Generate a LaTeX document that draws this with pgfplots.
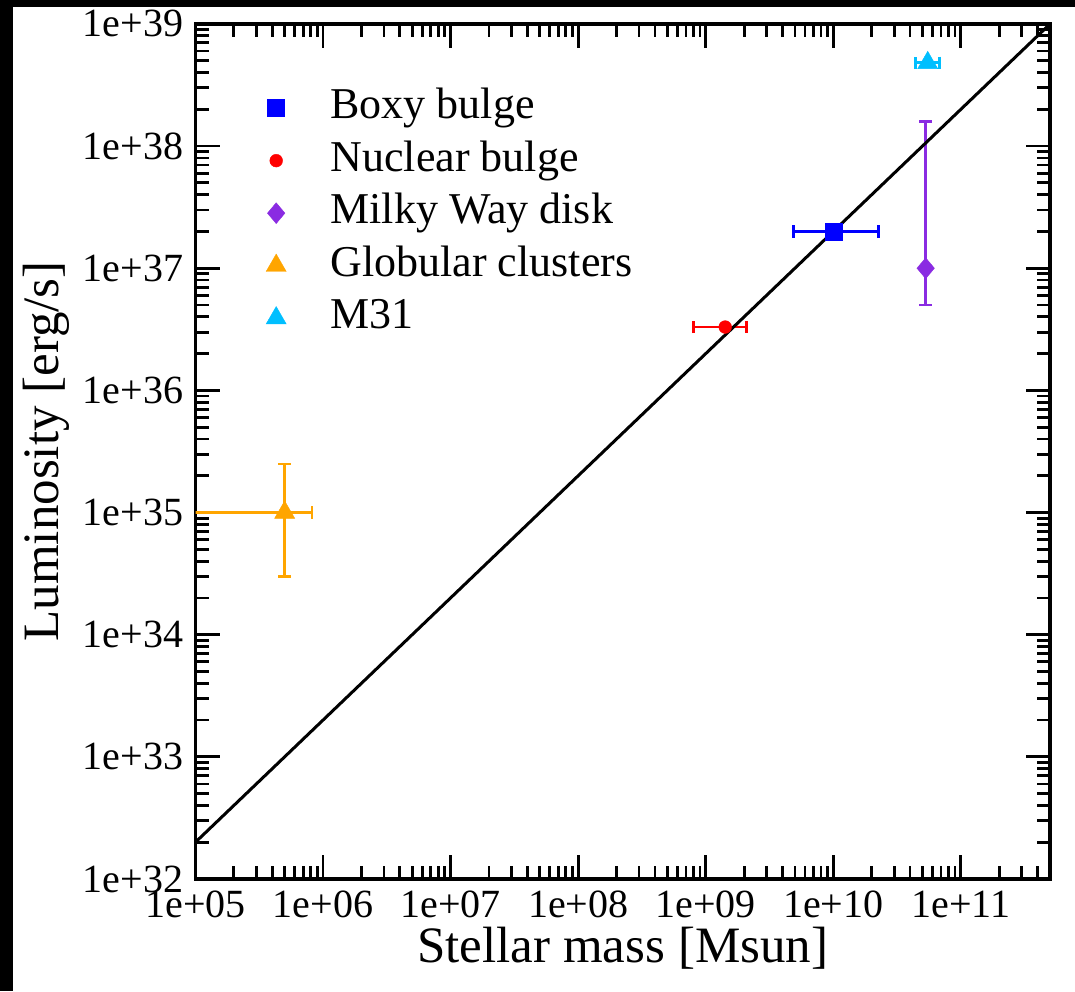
\documentclass[border=0pt]{standalone}
\usepackage{fontspec}
\setmainfont{Liberation Serif}
\usepackage{pgfplots}
\pgfplotsset{compat=1.18}

\definecolor{boxyc}{RGB}{0,0,255}
\definecolor{nuclc}{RGB}{255,0,0}
\definecolor{diskc}{RGB}{138,43,226}
\definecolor{gcc}{RGB}{255,165,0}
\definecolor{mtc}{RGB}{0,191,255}

\begin{document}
\begin{tikzpicture}
\path[use as bounding box] (-97.75pt,-56pt) rectangle (439.75pt,439.5pt);
\fill[white] (-97.75pt,-56pt) rectangle (439.75pt,439.5pt);
\fill[black] (-97.75pt,-56pt) rectangle (-91.4pt,439.5pt);
\fill[black] (-97.75pt,436.1pt) rectangle (439.75pt,439.5pt);
\begin{axis}[
  scale only axis, width=427.25pt, height=427.5pt,
  xmode=log, ymode=log,
  xmin=1e5, xmax=5e11, ymin=1e32, ymax=1e39,
  xtick={1e5,1e6,1e7,1e8,1e9,1e10,1e11},
  xticklabels={1e+05,1e+06,1e+07,1e+08,1e+09,1e+10,1e+11},
  ytick={1e32,1e33,1e34,1e35,1e36,1e37,1e38,1e39},
  yticklabels={1e+32,1e+33,1e+34,1e+35,1e+36,1e+37,1e+38,1e+39},
  minor xtick={2e5,3e5,4e5,5e5,6e5,7e5,8e5,9e5,
               2e6,3e6,4e6,5e6,6e6,7e6,8e6,9e6,
               2e7,3e7,4e7,5e7,6e7,7e7,8e7,9e7,
               2e8,3e8,4e8,5e8,6e8,7e8,8e8,9e8,
               2e9,3e9,4e9,5e9,6e9,7e9,8e9,9e9,
               2e10,3e10,4e10,5e10,6e10,7e10,8e10,9e10,
               2e11,3e11,4e11},
  minor ytick={2e32,3e32,4e32,5e32,6e32,7e32,8e32,9e32,
               2e33,3e33,4e33,5e33,6e33,7e33,8e33,9e33,
               2e34,3e34,4e34,5e34,6e34,7e34,8e34,9e34,
               2e35,3e35,4e35,5e35,6e35,7e35,8e35,9e35,
               2e36,3e36,4e36,5e36,6e36,7e36,8e36,9e36,
               2e37,3e37,4e37,5e37,6e37,7e37,8e37,9e37,
               2e38,3e38,4e38,5e38,6e38,7e38,8e38,9e38},
  tick align=inside,
  major tick length=12pt, minor tick length=6.5pt,
  tick style={black, line width=1.4pt},
  axis line style={line width=1.6pt},
  ticklabel style={font=\fontsize{20}{24}\selectfont},
  xticklabel style={inner sep=0pt, yshift=-6pt},
  yticklabel style={inner sep=0pt, xshift=-6pt},
  xlabel={Stellar mass [Msun]},
  ylabel={Luminosity [erg/s]},
  label style={font=\fontsize{25.5}{30}\selectfont},
  xlabel style={yshift=-1pt},
  ylabel style={yshift=3pt},
  legend style={draw=none, fill=none, at={(0.0822,0.927)}, anchor=north west,
    inner xsep=0pt, inner ysep=0pt, row sep=4.85pt,
    font=\fontsize{22}{26}\selectfont,
    nodes={inner sep=0pt, text height=16pt, text depth=5.4pt},
    cells={anchor=west}},
  legend image code/.code={%
    \draw[mark repeat=2,mark phase=2,#1] plot coordinates {(0pt,0pt) (14pt,0pt) (28pt,0pt)};
    \path (41pt,0pt);},
  error bars/error bar style={line width=1.4pt},
  error bars/error mark options={rotate=90, line width=1.4pt, mark size=3.1pt},
]
% Boxy bulge
\addplot[boxyc, only marks, mark=square*, mark size=4.25pt, mark options={line width=0.2pt},
  error bars/.cd, x dir=both, x explicit]
  coordinates {(1e10,2e37) += (1.25e10,0) -= (5.1e9,0)};
\addlegendentry{Boxy bulge}
% Nuclear bulge
\addplot[nuclc, only marks, mark=*, mark size=3.2pt, mark options={line width=0.2pt},
  error bars/.cd, x dir=both, x explicit]
  coordinates {(1.42e9,3.3e36) += (0.66e9,0) -= (0.62e9,0)};
\addlegendentry{Nuclear bulge}
% Milky Way disk
\addplot[diskc, only marks, mark=diamond*, mark size=5.2pt, mark options={xscale=1.12, line width=0.2pt},
  error bars/.cd, y dir=both, y explicit]
  coordinates {(5.3e10,1e37) += (0,1.5e38) -= (0,5e36)};
\addlegendentry{Milky Way disk}
% Globular clusters
\addplot[gcc, only marks, mark=triangle*, mark size=5.8pt, mark options={line width=0.2pt},
  error bars/.cd, x dir=both, x explicit, y dir=both, y explicit]
  coordinates {(5e5,1e35) += (3.2e5,1.5e35) -= (4.5e5,7e34)};
\addlegendentry{Globular clusters}
% M31
\addplot[mtc, only marks, mark=triangle*, mark size=5.8pt, mark options={line width=0.2pt},
  error bars/.cd, x dir=both, x explicit]
  coordinates {(5.5e10,4.8e38) += (1.3e10,0) -= (1.06e10,0)};
\addlegendentry{M31}
% linear scaling L = 2e27 * M
\addplot[black, line width=1.5pt, forget plot] coordinates {(1e5,2e32) (5e11,1e39)};
\end{axis}
\end{tikzpicture}
\end{document}
